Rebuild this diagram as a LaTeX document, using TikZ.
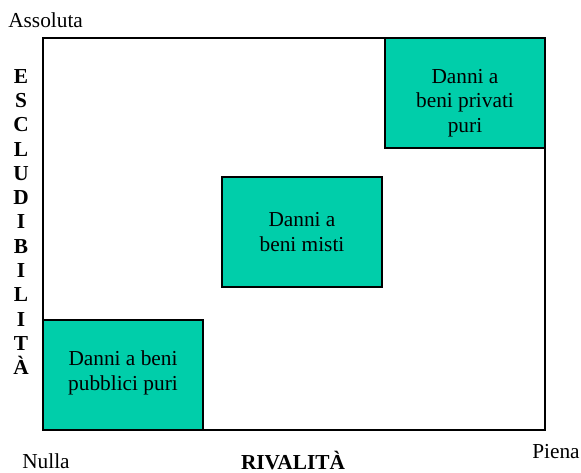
\documentclass[tikz,border=0pt]{standalone}
\usepackage{fontspec}
\setmainfont{Liberation Serif}
\definecolor{teal1}{RGB}{0,206,170}
\begin{document}
\begin{tikzpicture}[x=0.75pt,y=-0.75pt,
  cell/.style={draw=black,line width=1pt,fill=teal1},
  lbl/.style={font=\fontsize{16}{18.2}\selectfont,align=center,inner sep=0pt},
  blbl/.style={font=\fontsize{16}{18.2}\selectfont\bfseries,align=center,inner sep=0pt}]
\useasboundingbox (0,0) rectangle (581,473);
\draw[line width=1pt] (43,38) rectangle (545,430);
\draw[cell] (385,38) rectangle (545,148);
\draw[cell] (222,177) rectangle (382,287);
\draw[cell] (43,320) rectangle (203,430);
\node[lbl] (priv) at (465,103) {Danni a\\beni privati\\puri};
\node[lbl] (misti) at (302,232) {Danni a\\beni misti};
\node[lbl] (pubb) at (123,373) {Danni a beni\\pubblici puri};
\node[lbl,anchor=west] (ass) at (8,20) {Assoluta};
\node[lbl,anchor=west] (nul) at (22,461) {Nulla};
\node[lbl,anchor=west] (pie) at (532,452) {Piena};
\node[blbl,anchor=base] (riv) at (293,469) {RIVALITÀ};
\node[blbl] (escl) at (21,222) {E\\S\\C\\L\\U\\D\\I\\B\\I\\L\\I\\T\\À};
\end{tikzpicture}
\end{document}
